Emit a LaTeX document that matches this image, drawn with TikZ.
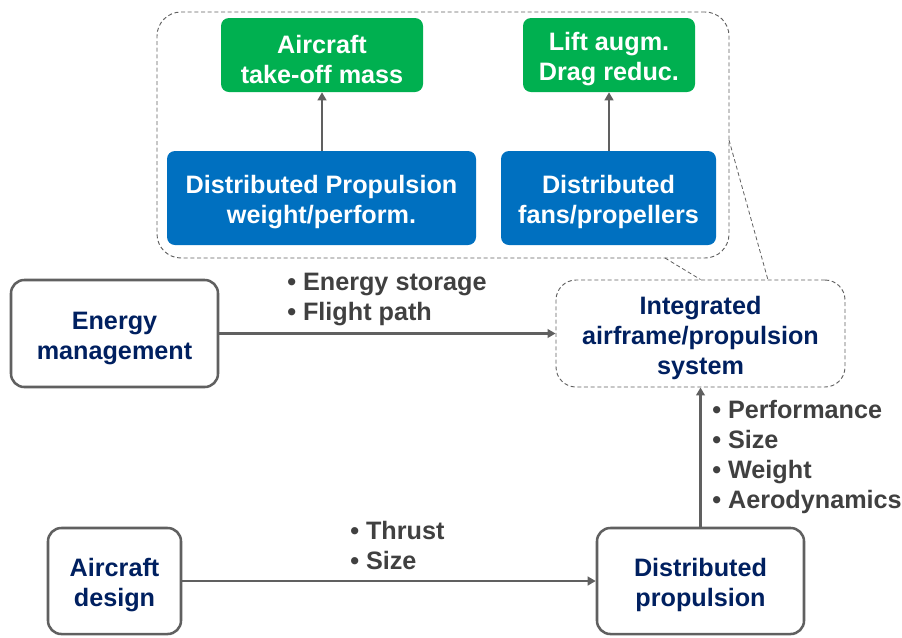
\documentclass[tikz,border=0pt]{standalone}
\usepackage{fontspec}
\setmainfont{Liberation Sans}
\usetikzlibrary{arrows.meta}
\definecolor{grn}{HTML}{00B050}
\definecolor{blu}{HTML}{0070C0}
\definecolor{navy}{HTML}{002060}
\definecolor{txtgrey}{HTML}{404040}
\definecolor{linegrey}{HTML}{606060}
\newcommand{\fstr}{\rule{0pt}{20pt}}
\begin{document}
\begin{tikzpicture}[x=0.75pt,y=-0.75pt,
  font=\fontsize{18.9}{22.5}\selectfont\bfseries,
  greenbox/.style={fill=grn, text=white, rounded corners=6pt, align=center, inner sep=0pt, minimum height=55.5pt},
  bluebox/.style={fill=blu, text=white, rounded corners=6pt, align=center, inner sep=0pt, minimum height=70.5pt},
  whitebox/.style={draw=linegrey, line width=1.9pt, fill=white, text=navy, rounded corners=10pt, align=center, inner sep=0pt},
  dashbox/.style={draw=linegrey, line width=0.7pt, dash pattern=on 3pt off 2pt},
  conn/.style={draw=linegrey, line width=2pt, -{Triangle[length=6pt,width=6.5pt]}},
  thin dash/.style={draw=linegrey, line width=0.6pt, dash pattern=on 3pt off 2pt},
  lbl/.style={text=txtgrey, align=left, anchor=west, inner sep=0pt}
]
\useasboundingbox (0,0) rectangle (902,637);
% group
\node[dashbox, rounded corners=18pt, minimum width=429pt, minimum height=184.5pt] (group) at (443,135) {};
% top boxes
\node[greenbox, minimum width=151.5pt] (mass) at (322,55) {\fstr Aircraft\\take-off mass};
\node[greenbox, minimum width=129pt] (lift) at (609,55) {\fstr Lift augm.\\Drag reduc.};
\node[bluebox, minimum width=231.75pt] (dpw) at (321.5,198) {\fstr Distributed Propulsion\\weight/perform.};
\node[bluebox, minimum width=161.25pt] (fans) at (608.5,198) {\fstr Distributed\\fans/propellers};
\draw[conn] (dpw.north -| mass.south) -- (mass.south);
\draw[conn] (fans.north -| lift.south) -- (lift.south);
% integrated
\node[dashbox, rounded corners=15pt, text=navy, align=center, minimum width=216.75pt, minimum height=80.25pt] (integ) at (700.5,333.5) {\fstr Integrated\\airframe/propulsion\\system};
\coordinate (g1) at (665,258);
\coordinate (g2) at (729,140);
\coordinate (i2) at (768,280);
\draw[thin dash] (g1) -- (integ.north);
\draw[thin dash] (g2) -- (i2);
% energy management
\node[whitebox, minimum width=155.25pt, minimum height=80.25pt] (energy) at (114.5,333.5) {\fstr Energy\\management};
\draw[conn] (energy.east) -- (energy.east -| integ.west);
\node[lbl] (lblE) at (287,299) {• Energy storage\\• Flight path};
% aircraft design and distributed propulsion
\node[whitebox, minimum width=99.75pt, minimum height=79.5pt] (design) at (114.5,581) {\fstr Aircraft\\design};
\node[whitebox, minimum width=155.25pt, minimum height=79.5pt] (dprop) at (700.5,581) {\fstr Distributed\\propulsion};
\draw[conn] (design.east) -- (dprop.west);
\node[lbl] (lblT) at (350,545.5) {• Thrust\\• Size};
\draw[conn] (dprop.north) -- (integ.south);
\node[lbl] (lblP) at (712,456.5) {• Performance\\• Size\\• Weight\\• Aerodynamics};
\end{tikzpicture}
\end{document}
